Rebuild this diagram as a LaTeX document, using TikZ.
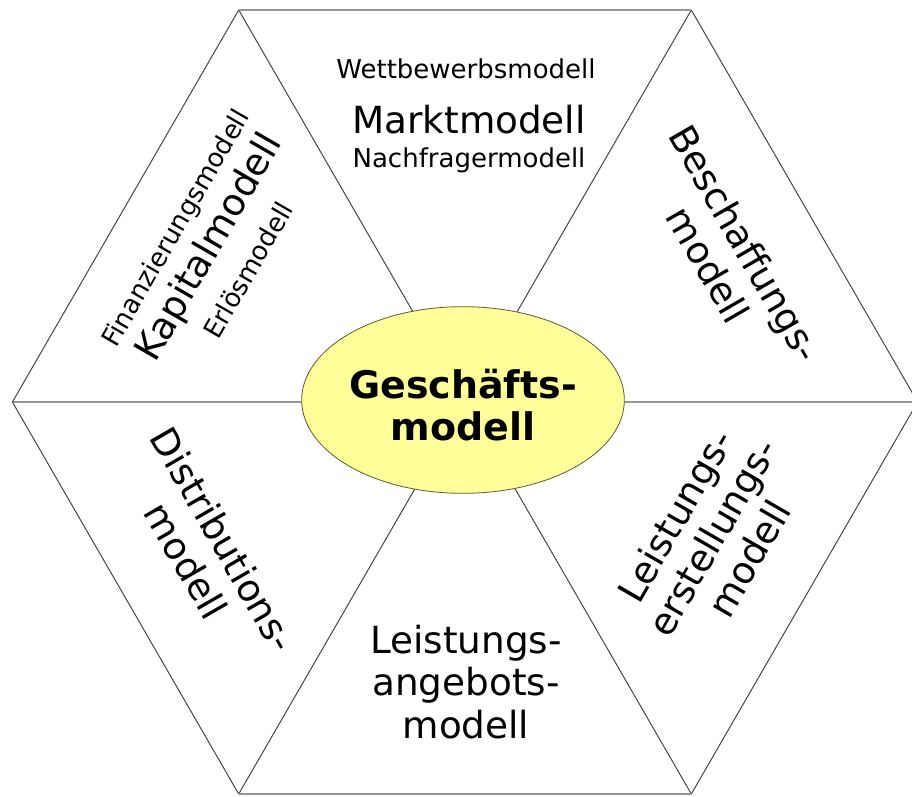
\documentclass[tikz,border=0pt]{standalone}
\usepackage{fontspec}
\setmainfont{DejaVu Sans}
\usetikzlibrary{shapes.geometric}
\definecolor{gmyellow}{RGB}{255,255,153}
\definecolor{thickgray}{RGB}{150,150,150}
\definecolor{thingray}{RGB}{70,70,70}
\definecolor{coreline}{RGB}{90,90,50}
\begin{document}
\begin{tikzpicture}[x=0.75pt,y=0.75pt,
  thinedge/.style={draw=thingray, line width=0.75pt},
  thickedge/.style={draw=thickgray, line width=2pt},
  bigtxt/.style={font=\fontsize{28}{32}\selectfont, inner sep=0pt},
  smalltxt/.style={font=\fontsize{19.5}{22}\selectfont, inner sep=0pt},
  coretxt/.style={font=\bfseries\fontsize{28.5}{32}\selectfont, inner sep=0pt, align=center},
  core/.style={ellipse, draw=coreline, line width=0.6pt, fill=gmyellow,
    minimum width=242pt, minimum height=140pt, inner sep=0pt}]
\useasboundingbox (0,0) rectangle (912,-796);
\clip (0,0) rectangle (912,-796);
% hexagon vertices
\coordinate (C) at (465,-402);
\coordinate (V0) at (917.6,-402);
\coordinate (V1) at (691.3,-10);
\coordinate (V2) at (238.7,-10);
\coordinate (V3) at (12.4,-402);
\coordinate (V4) at (238.7,-794);
\coordinate (V5) at (691.3,-794);
% inner diagonals
\draw[thinedge] (V1) -- (V4);
\draw[thinedge] (V2) -- (V5);
\draw[thickedge] (V3) -- (V0);
% outline
\draw[thinedge] (V0) -- (V1);
\draw[thinedge] (V2) -- (V3);
\draw[thinedge] (V3) -- (V4);
\draw[thinedge] (V5) -- (V0);
\draw[thickedge] (V1) -- (V2);
\draw[thickedge] (V4) -- (V5);
% centre
\node[core] (gm) at (463,-400) {};
\node[coretxt] (gmt) at (463,-405) {Geschäfts-\\modell};
% top sector
\node[smalltxt, anchor=base] (wb) at (466,-78) {Wettbewerbsmodell};
\node[bigtxt, anchor=base] (mm) at (469,-133) {Marktmodell};
\node[smalltxt, anchor=base] (nm) at (469,-167) {Nachfragermodell};
% upper left sector
\node[bigtxt, rotate=60] (kap) at (210,-248) {Kapitalmodell};
\node[smalltxt, rotate=60] (fin) at (177,-229) {Finanzierungsmodell};
\node[smalltxt, rotate=60] (erl) at (248,-270) {Erlösmodell};
% upper right sector
\node[bigtxt, align=center, rotate=-60] (besch) at (727,-254) {Beschaffungs-\\modell};
% lower left sector
\node[bigtxt, align=center, rotate=-60] (dist) at (205,-550) {Distributions-\\modell};
% lower right sector
\node[bigtxt, align=center, rotate=60] (lerst) at (712,-537) {Leistungs-\\erstellungs-\\modell};
% bottom sector
\node[bigtxt, align=center] (lang) at (466,-682) {Leistungs-\\angebots-\\modell};
\end{tikzpicture}
\end{document}
